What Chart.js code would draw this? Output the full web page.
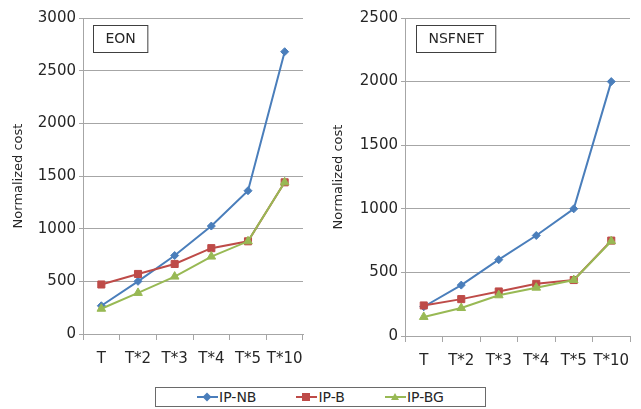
<!DOCTYPE html>
<html>
<head>
<meta charset="utf-8">
<script src="https://cdn.jsdelivr.net/npm/chart.js@4"></script>
<style>
  body { margin: 0; background: #fff; width: 641px; height: 409px; position: relative; overflow: hidden; font-family: "DejaVu Sans", sans-serif; }
  .box { position: absolute; top: 0; height: 380px; }
  #legend { position: absolute; left: 155px; top: 387px; width: 331px; height: 20px; border: 1px solid #6a6a6a; box-sizing: border-box; display: flex; justify-content: center; align-items: center; font-size: 14px; color: #262626; }
  .item { display: flex; align-items: center; margin: 0 20px; }
  .icon { position: relative; width: 21px; height: 12px; margin-right: 1px; }
  .icon .ln { position: absolute; left: 0; right: 0; top: 5px; height: 2px; }
  .icon .mk { position: absolute; left: 6px; top: 2px; width: 8px; height: 8px; }
</style>
</head>
<body>
<div class="box" style="left:0;width:320px"><canvas id="c1"></canvas></div>
<div class="box" style="left:320px;width:321px"><canvas id="c2"></canvas></div>
<div id="legend"></div>
<script>
// x categories, shared by both panels
var categories = ["T", "T*2", "T*3", "T*4", "T*5", "T*10"];
var seriesNames = ["IP-NB", "IP-B", "IP-BG"];
var seriesColors = ["#4a7ebb", "#be4b48", "#98b954"];
var seriesMarkers = ["rectRot", "rect", "triangle"];

// EON panel
var eonNB = [268, 500, 745, 1025, 1360, 2680];
var eonB = [470, 570, 665, 815, 880, 1440];
var eonBG = [240, 390, 545, 735, 880, 1440];
var eonTicks = [0, 500, 1000, 1500, 2000, 2500, 3000];

// NSFNET panel
var nsfNB = [230, 400, 600, 790, 1000, 2000];
var nsfB = [240, 290, 350, 410, 440, 750];
var nsfBG = [150, 220, 320, 380, 440, 745];
var nsfTicks = [0, 500, 1000, 1500, 2000, 2500];

var txt = "#262626";
var gridCol = "#a6a6a6";

var boxLabel = {
  id: "boxLabel",
  afterDraw: function(chart, args, opts) {
    var ctx = chart.ctx, a = chart.chartArea;
    ctx.save();
    ctx.font = "14px 'DejaVu Sans'";
    var w = ctx.measureText(opts.text).width + 24;
    var x = a.left + opts.dx, y = a.top + 7;
    ctx.fillStyle = "#fff";
    ctx.fillRect(x, y, w, 27);
    ctx.strokeStyle = "#404040";
    ctx.lineWidth = 1;
    ctx.strokeRect(x + 0.5, y + 0.5, w, 27);
    ctx.fillStyle = txt;
    ctx.textAlign = "center";
    ctx.textBaseline = "middle";
    ctx.fillText(opts.text, x + w / 2 + 0.5, y + 14);
    ctx.restore();
  }
};

function makeChart(id, data, ticks, label, axisW, xH, padR, dx) {
  var sets = [];
  for (var i = 0; i < data.length; i++) {
    sets.push({
      label: seriesNames[i],
      data: data[i],
      borderColor: seriesColors[i],
      backgroundColor: seriesColors[i],
      borderWidth: 2,
      pointStyle: seriesMarkers[i],
      pointRadius: i == 0 ? 4 : 5,
      pointBorderWidth: 1,
      tension: 0
    });
  }
  // draw first series on top like the original
  sets.reverse();
  return new Chart(id, {
    type: "line",
    data: { labels: categories, datasets: sets },
    plugins: [boxLabel],
    options: {
      responsive: true,
      maintainAspectRatio: false,
      animation: false,
      layout: { padding: { top: 18, right: padR, left: 0, bottom: 0 } },
      plugins: {
        legend: { display: false },
        tooltip: { enabled: false },
        boxLabel: { text: label, dx: dx }
      },
      scales: {
        x: {
          offset: true,
          grid: { offset: true, drawOnChartArea: false, drawTicks: true, tickLength: 6, color: gridCol },
          border: { color: gridCol },
          ticks: { color: txt, font: { family: "DejaVu Sans", size: 15 }, padding: 10, maxRotation: 0, autoSkip: false },
          afterFit: function(s) { s.height = xH; }
        },
        y: {
          min: 0,
          max: ticks[ticks.length - 1],
          afterBuildTicks: function(s) { s.ticks = ticks.map(function(v) { return { value: v }; }); },
          grid: { color: gridCol, tickLength: 4 },
          border: { color: gridCol },
          ticks: { color: txt, font: { family: "DejaVu Sans", size: 15 }, padding: 3, callback: function(v) { return String(v); } },
          title: { display: true, text: "Normalized cost", color: txt, font: { family: "DejaVu Sans", size: 13 }, padding: { top: 11, bottom: 0 } },
          afterFit: function(s) { s.width = axisW; }
        }
      }
    }
  });
}

makeChart("c1", [eonNB, eonB, eonBG], eonTicks, "EON", 83, 46, 17, 10);
makeChart("c2", [nsfNB, nsfB, nsfBG], nsfTicks, "NSFNET", 85, 44, 11, 11);

// shared legend
var html = "";
for (var i = 0; i < seriesNames.length; i++) {
  var c = seriesColors[i];
  var mk;
  if (seriesMarkers[i] == "rectRot") mk = '<span class="mk" style="background:' + c + ';transform:rotate(45deg) scale(0.8)"></span>';
  else if (seriesMarkers[i] == "rect") mk = '<span class="mk" style="background:' + c + '"></span>';
  else mk = '<span class="mk" style="width:0;height:0;background:none;border-left:4px solid transparent;border-right:4px solid transparent;border-bottom:7px solid ' + c + '"></span>';
  html += '<span class="item"><span class="icon"><span class="ln" style="background:' + c + '"></span>' + mk + '</span>' + seriesNames[i] + '</span>';
}
document.getElementById("legend").innerHTML = html;
</script>
</body>
</html>
